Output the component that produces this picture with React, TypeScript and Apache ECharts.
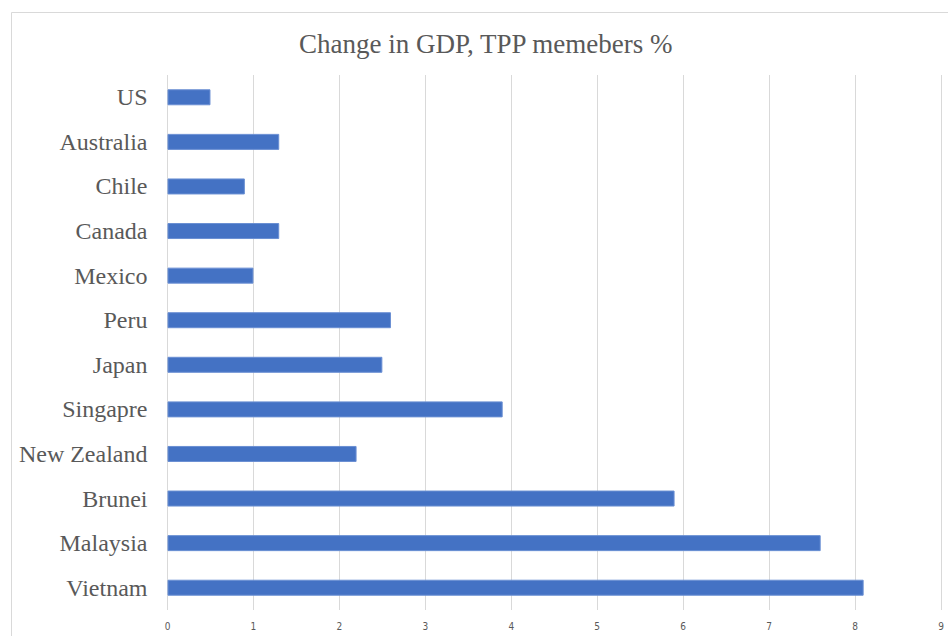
import React, { useEffect, useRef } from "react";
import * as echarts from "echarts";

const countries = [
  "US",
  "Australia",
  "Chile",
  "Canada",
  "Mexico",
  "Peru",
  "Japan",
  "Singapre",
  "New Zealand",
  "Brunei",
  "Malaysia",
  "Vietnam",
];
const gdpChange = [0.5, 1.3, 0.9, 1.3, 1.0, 2.6, 2.5, 3.9, 2.2, 5.9, 7.6, 8.1];
const titleText = "Change in GDP, TPP memebers %";

export default function App() {
  const ref = useRef<HTMLDivElement>(null);
  useEffect(() => {
    if (!ref.current) return;
    const chart = echarts.init(ref.current, null, { renderer: "svg" });
    chart.setOption({
      animation: false,
      backgroundColor: "#ffffff",
      title: {
        text: titleText,
        left: 294,
        top: 25,
        textStyle: {
          fontFamily: "Liberation Serif, Times New Roman, serif",
          fontSize: 27,
          fontWeight: "normal",
          color: "#595959",
        },
      },
      graphic: [
        {
          type: "rect",
          left: 9,
          top: 10,
          shape: { width: 1000, height: 700 },
          style: { fill: "none", stroke: "#d9d9d9", lineWidth: 1 },
          silent: true,
          z: -1,
        },
      ],
      grid: { left: 167.5, right: 7, top: 75, bottom: 26, containLabel: false },
      xAxis: {
        type: "value",
        min: 0,
        max: 9,
        interval: 1,
        axisLine: { show: false },
        axisTick: { show: false },
        splitLine: { show: true, lineStyle: { color: "#d9d9d9", width: 1 } },
        axisLabel: {
          margin: 11,
          fontFamily: "Liberation Sans Narrow, DejaVu Sans Condensed, sans-serif",
          fontSize: 10,
          color: "#595959",
        },
      },
      yAxis: {
        type: "category",
        data: countries,
        inverse: true,
        axisLine: { show: false },
        axisTick: { show: false },
        splitLine: { show: false },
        axisLabel: {
          margin: 20,
          fontFamily: "Liberation Serif, Times New Roman, serif",
          fontSize: 24,
          color: "#595959",
        },
      },
      series: [
        {
          type: "bar",
          data: gdpChange,
          barWidth: 16,
          itemStyle: { color: "#4472C4", borderColor: "#6a8fd3", borderWidth: 1 },
        },
      ],
    });
    return () => chart.dispose();
  }, []);
  return (
    <div
      ref={ref}
      style={{ position: "fixed", left: 0, top: 0, width: 948, height: 636 }}
    />
  );
}
